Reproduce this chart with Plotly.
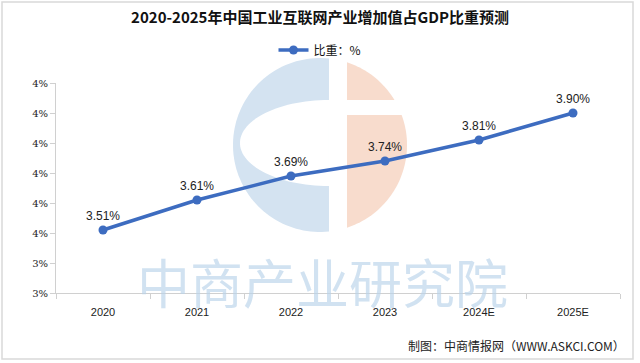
import numpy as np
import plotly.graph_objects as go

title = "2020-2025年中国工业互联网产业增加值占GDP比重预测"
series_name = "比重：%"
years = ["2020", "2021", "2022", "2023", "2024E", "2025E"]
share = [3.51, 3.61, 3.69, 3.74, 3.81, 3.90]
ytick_vals = [3.3, 3.4, 3.5, 3.6, 3.7, 3.8, 3.9, 4.0]
ytick_text = ["3%", "3%", "4%", "4%", "4%", "4%", "4%", "4%"]
source_text = "制图：中商情报网（WWW.ASKCI.COM）"
watermark = "中商产业研究院"

W, H = 640, 363
ML, MR, MT, MB = 56, 20, 83, 70
PW, PH = W - ML - MR, H - MT - MB


def px(x):
    return (x - ML) / PW


def py(y):
    return (H - MB - y) / PH


def path_from(pts):
    return "M " + " L ".join(f"{px(x):.4f},{py(y):.4f}" for x, y in pts) + " Z"


# decorative logo watermark
cx, cy, r = 320, 145, 87
shapes = []
xg1 = 329
a1 = np.arccos((xg1 - cx) / r)
ang = np.linspace(a1, 2 * np.pi - a1, 80)
blue_pts = [(cx + r * np.cos(t), cy - r * np.sin(t)) for t in ang]
shapes.append(dict(type="path", path=path_from(blue_pts), xref="paper", yref="paper",
                   fillcolor="#d4e3f1", line=dict(width=0), layer="below"))
ecx, ecy, erx, ery = 329, 143, 89, 43
ang2 = np.linspace(np.pi / 2, 3 * np.pi / 2, 60)
cut_pts = [(ecx + erx * np.cos(t), ecy - ery * np.sin(t)) for t in ang2]
shapes.append(dict(type="path", path=path_from(cut_pts), xref="paper", yref="paper",
                   fillcolor="white", line=dict(width=0), layer="below"))
xg2 = 347
a2 = np.arccos((xg2 - cx) / r)
ang3 = np.linspace(-a2, a2, 80)
or_pts = [(cx + r * np.cos(t), cy - r * np.sin(t)) for t in ang3]
shapes.append(dict(type="path", path=path_from(or_pts), xref="paper", yref="paper",
                   fillcolor="#f8dccd", line=dict(width=0), layer="below"))
shapes.append(dict(type="rect", x0=px(340), x1=px(420), y0=py(100), y1=py(115),
                   xref="paper", yref="paper", fillcolor="white", line=dict(width=0), layer="below"))
shapes.append(dict(type="rect", x0=px(2), x1=px(633), y0=py(2), y1=py(359),
                   xref="paper", yref="paper", fillcolor="rgba(0,0,0,0)",
                   line=dict(color="#d9d9d9", width=1.5), layer="below"))

fig = go.Figure()
fig.add_trace(go.Scatter(
    x=years, y=share, name=series_name, mode="lines+markers+text",
    line=dict(color="#3d6cc0", width=3.5),
    marker=dict(color="#3d6cc0", size=9),
    text=[f"{v:.2f}%" for v in share], textposition="top center",
    textfont=dict(family="Liberation Sans, Arial, sans-serif", size=12, color="#222222"),
))

fig.update_layout(
    width=W, height=H,
    margin=dict(l=ML, r=MR, t=MT, b=MB, autoexpand=False),
    paper_bgcolor="white", plot_bgcolor="rgba(0,0,0,0)",
    title=dict(text=f"<b>{title}</b>", x=0.5, xanchor="center", y=1 - 18 / H, yanchor="middle",
               font=dict(family="Noto Sans CJK SC, sans-serif", size=15, color="#111111")),
    showlegend=True,
    legend=dict(orientation="h", x=0.5, xanchor="center", y=1 - 50 / H, yanchor="middle",
                xref="container", yref="container",
                font=dict(family="Noto Sans CJK SC, sans-serif", size=12, color="#111111"),
                bgcolor="rgba(0,0,0,0)"),
    shapes=shapes,
    annotations=[
        dict(text=source_text, x=px(627), y=py(345), xref="paper", yref="paper",
             xanchor="right", yanchor="middle", showarrow=False,
             font=dict(family="Noto Sans CJK SC, sans-serif", size=12, color="#222222")),
        dict(text=watermark, x=px(322), y=py(281), xref="paper", yref="paper",
             xanchor="center", yanchor="middle", showarrow=False,
             font=dict(family="Noto Sans CJK SC, sans-serif", size=53, color="rgba(185,211,234,0.65)")),
    ],
)
fig.update_xaxes(
    type="category", range=[-0.5, 5.5], showline=True, linecolor="#d0d0d0", linewidth=1,
    ticks="outside", tickson="boundaries", ticklen=5, tickcolor="#d0d0d0",
    showgrid=False, zeroline=False, ticklabelstandoff=9,
    tickfont=dict(family="Liberation Sans, Arial, sans-serif", size=11, color="#222222"),
)
fig.update_yaxes(
    range=[3.3, 4.0], tickvals=ytick_vals, ticktext=ytick_text,
    showline=True, linecolor="#d0d0d0", linewidth=1, ticks="outside", ticklen=5,
    tickcolor="#d0d0d0", showgrid=False, zeroline=False,
    tickfont=dict(family="DejaVu Serif, serif", size=10, color="#222222"),
)

fig.write_html("out.html", config={"displayModeBar": False},
               post_script="document.body.style.margin='0';")
